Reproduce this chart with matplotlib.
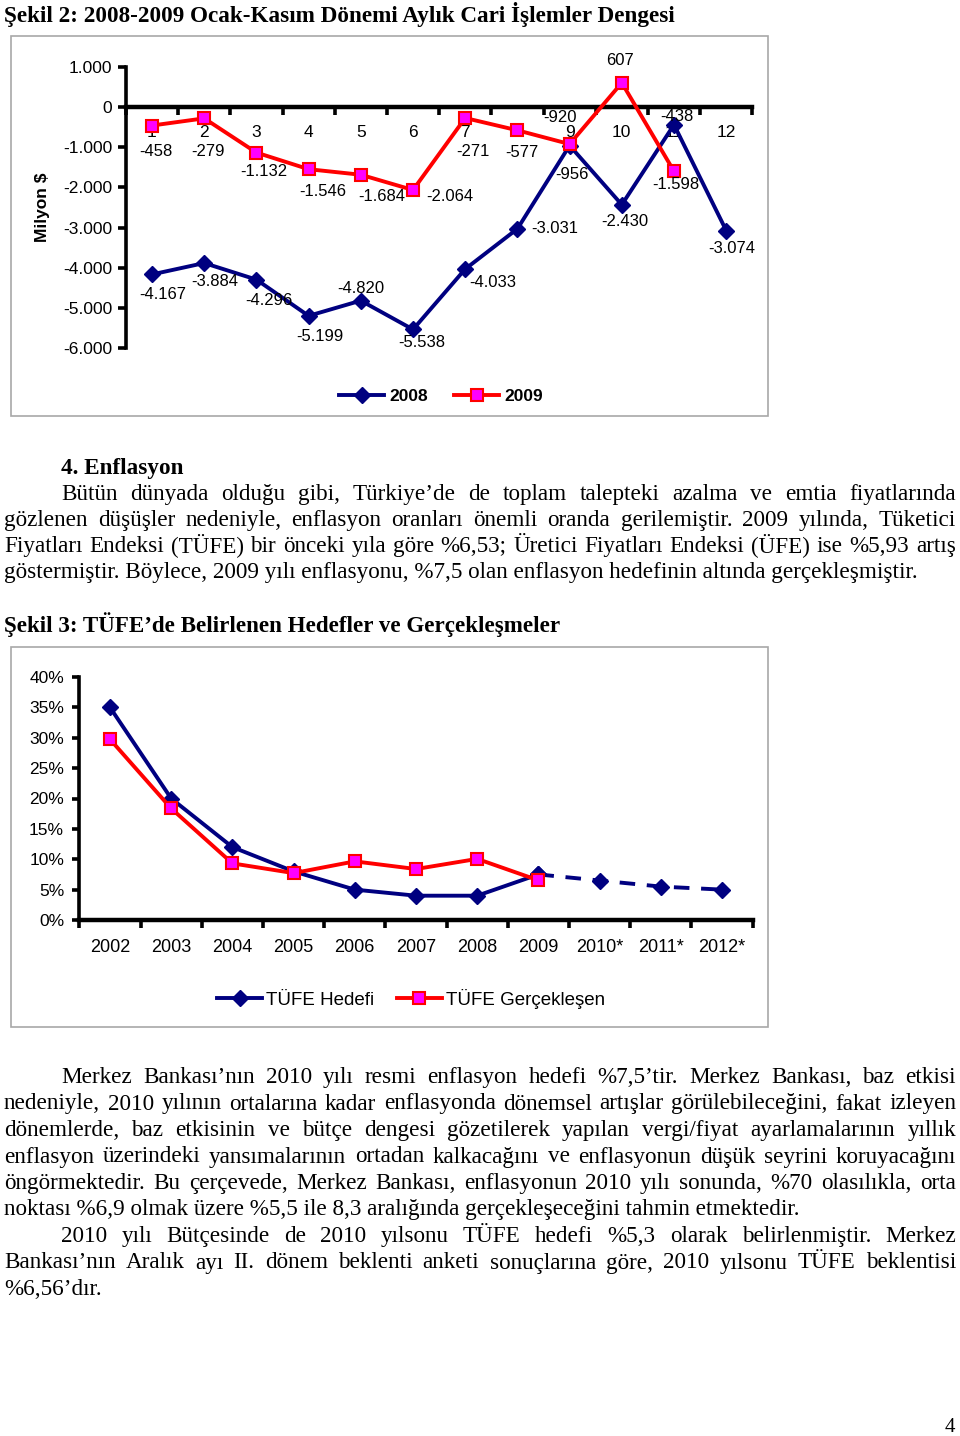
import numpy as np
import matplotlib
matplotlib.use('Agg')
import matplotlib.pyplot as plt
from matplotlib.patches import Rectangle
from matplotlib.ticker import FuncFormatter

# Sekil 2 - aylik cari islemler dengesi (milyon $)
months = list(range(1, 13))
cari_2008 = [-4167, -3884, -4296, -5199, -4820, -5538, -4033, -3031, -956, -2430, -438, -3074]
cari_2009 = [-458, -279, -1132, -1546, -1684, -2064, -271, -577, -920, 607, -1598]

# Sekil 3 - TUFE hedef / gerceklesen (%)
years = ['2002', '2003', '2004', '2005', '2006', '2007', '2008', '2009', '2010*', '2011*', '2012*']
tufe_hedef = [35, 20, 12, 8, 5, 4, 4, 7.5, 6.5, 5.5, 5]
tufe_gercek = [29.75, 18.36, 9.32, 7.72, 9.65, 8.39, 10.06, 6.53]

# where the data labels sit relative to the points (pixels)
off_2008 = [(11, -20), (11, -18), (12, -21), (11, -21), (0, 12), (9, -13),
            (28, -13), (37, 0), (2, -29), (3, -17), (3, 8), (6, -18)]
off_2009 = [(4, -26), (4, -33), (7, -19), (14, -22), (21, -22), (37, -7),
            (8, -33), (4, -22), (-10, 27), (-2, 22), (2, -13)]

title2 = 'Şekil 2: 2008-2009 Ocak-Kasım Dönemi Aylık Cari İşlemler Dengesi'
head4 = '4. Enflasyon'
para1 = ['Bütün dünyada olduğu gibi, Türkiye’de de toplam talepteki azalma ve emtia fiyatlarında',
         'gözlenen düşüşler nedeniyle, enflasyon oranları önemli oranda gerilemiştir. 2009 yılında, Tüketici',
         'Fiyatları Endeksi (TÜFE) bir önceki yıla göre %6,53; Üretici Fiyatları Endeksi (ÜFE) ise %5,93 artış',
         'göstermiştir. Böylece, 2009 yılı enflasyonu, %7,5 olan enflasyon hedefinin altında gerçekleşmiştir.']
title3 = 'Şekil 3: TÜFE’de Belirlenen Hedefler ve Gerçekleşmeler'
para2 = ['Merkez Bankası’nın 2010 yılı resmi enflasyon hedefi %7,5’tir. Merkez Bankası, baz etkisi',
         'nedeniyle, 2010 yılının ortalarına kadar enflasyonda dönemsel artışlar görülebileceğini, fakat izleyen',
         'dönemlerde, baz etkisinin ve bütçe dengesi gözetilerek yapılan vergi/fiyat ayarlamalarının yıllık',
         'enflasyon üzerindeki yansımalarının ortadan kalkacağını ve enflasyonun düşük seyrini koruyacağını',
         'öngörmektedir. Bu çerçevede, Merkez Bankası, enflasyonun 2010 yılı sonunda, %70 olasılıkla, orta',
         'noktası %6,9 olmak üzere %5,5 ile 8,3 aralığında gerçekleşeceğini tahmin etmektedir.',
         '2010 yılı Bütçesinde de 2010 yılsonu TÜFE hedefi %5,3 olarak belirlenmiştir. Merkez',
         'Bankası’nın Aralık ayı II. dönem beklenti anketi sonuçlarına göre, 2010 yılsonu TÜFE beklentisi',
         '%6,56’dır.']

W, H = 960, 1436
SERIF = 'Liberation Serif'
SANS = 'Liberation Sans'
NAVY = '#000080'
RED = '#ff0000'
MAG = '#ff00ff'

plt.rcParams['font.family'] = SANS

fig = plt.figure(figsize=(W / 100, H / 100), dpi=100)
renderer = fig.canvas.get_renderer()


def fx(px):
    return px / W


def fy(py):
    return 1 - py / H


def text_width(s, size, **kw):
    t = fig.text(0, 0, s, fontsize=size, **kw)
    w = t.get_window_extent(renderer).width
    t.remove()
    return w


def fit_size(s, target, **kw):
    return 10 * target / text_width(s, 10, **kw)


def put_line(s, y, x0, x1, size, justify=True, **kw):
    # justified line: spread the words between x0 and x1
    if not justify:
        fig.text(fx(x0), fy(y), s, fontsize=size, va='baseline', **kw)
        return
    words = s.split(' ')
    objs = [fig.text(0, 0, w, fontsize=size, va='baseline', **kw) for w in words]
    widths = [o.get_window_extent(renderer).width for o in objs]
    gap = (x1 - x0 - sum(widths)) / (len(words) - 1)
    x = x0
    for o, w in zip(objs, widths):
        o.set_position((fx(x), fy(y)))
        x += w + gap


# ---- frames around the two charts
for top, bot in [(36, 416), (647, 1027)]:
    fig.patches.append(Rectangle((fx(11), fy(bot)), (768 - 11) / W, (bot - top) / H,
                                 transform=fig.transFigure, fill=False,
                                 edgecolor='#a8a8a8', lw=1.2))

# ---- chart 1
ax1 = fig.add_axes([fx(125.9), fy(348), (752.3 - 125.9) / W, (348 - 67) / H])
ax1.set_xlim(0.5, 12.5)
ax1.set_ylim(-6000, 1000)
ax1.plot(months, cari_2008, color=NAVY, lw=2.8, marker='D', ms=8.5,
         mfc=NAVY, mec=NAVY, label='2008', clip_on=False, zorder=3)
ax1.plot(months[:len(cari_2009)], cari_2009, color=RED, lw=2.8, marker='s', ms=8.5,
         mfc=MAG, mec=RED, mew=1.5, label='2009', clip_on=False, zorder=4)


def tr_fmt(v):
    return f'{int(v):,}'.replace(',', '.')


for m, v, o in zip(months, cari_2008, off_2008):
    ax1.annotate(tr_fmt(v), (m, v), xytext=o, textcoords='offset pixels',
                 ha='center', va='center', fontsize=12, zorder=5)
for m, v, o in zip(months, cari_2009, off_2009):
    ax1.annotate(tr_fmt(v), (m, v), xytext=o, textcoords='offset pixels',
                 ha='center', va='center', fontsize=12, zorder=5)

for s in ['top', 'right']:
    ax1.spines[s].set_visible(False)
ax1.spines['bottom'].set_position(('data', 0))
ax1.spines['bottom'].set_linewidth(3.2)
ax1.spines['left'].set_linewidth(2.6)
ax1.set_xticks(months, [str(m) for m in months])
ax1.set_xticks(np.arange(0.5, 13, 1), minor=True)
ax1.tick_params(axis='x', which='major', length=0, pad=13, labelsize=12.5)
ax1.tick_params(axis='x', which='minor', length=6, width=2.6, direction='out')
ax1.set_yticks(range(-6000, 1001, 1000))
ax1.yaxis.set_major_formatter(FuncFormatter(lambda v, p: tr_fmt(v)))
ax1.tick_params(axis='y', length=6, width=2.6, pad=4, labelsize=12.5)
fig.text(fx(43), fy(207), 'Milyon $', rotation=90, ha='center', va='center',
         fontsize=12.5, fontweight='bold')
ax1.legend(loc='center', bbox_to_anchor=(fx(441), fy(396)), bbox_transform=fig.transFigure,
           ncol=2, frameon=False, prop={'family': SANS, 'weight': 'bold', 'size': 12.5},
           handlelength=2.6, handletextpad=0.3, columnspacing=1.5)

# ---- chart 2
ax2 = fig.add_axes([fx(79.4), fy(920), (752.6 - 79.4) / W, (920 - 677) / H])
ax2.set_xlim(-0.5, 10.5)
ax2.set_ylim(0, 40)
xs = np.arange(len(years))
n_real = len(tufe_gercek)
ax2.plot(xs[:n_real], tufe_hedef[:n_real], color=NAVY, lw=2.8, marker='D', ms=8,
         mfc=NAVY, mec=NAVY, label='TÜFE Hedefi', clip_on=False, zorder=3)
ax2.plot(xs[n_real - 1:], tufe_hedef[n_real - 1:], color=NAVY, lw=2.8, ls=(0, (4, 3)),
         marker='D', ms=8, mfc=NAVY, mec=NAVY, clip_on=False, zorder=3)
ax2.plot(xs[:n_real], tufe_gercek, color=RED, lw=2.8, marker='s', ms=8.5,
         mfc=MAG, mec=RED, mew=1.5, label='TÜFE Gerçekleşen', clip_on=False, zorder=4)
for s in ['top', 'right']:
    ax2.spines[s].set_visible(False)
ax2.spines['bottom'].set_linewidth(3.2)
ax2.spines['left'].set_linewidth(2.6)
ax2.set_xticks(xs, years)
ax2.set_xticks(np.arange(-0.5, 11, 1), minor=True)
ax2.tick_params(axis='x', which='major', length=0, pad=14, labelsize=13)
ax2.tick_params(axis='x', which='minor', length=6, width=2.6, direction='out')
ax2.set_yticks(range(0, 41, 5))
ax2.yaxis.set_major_formatter(FuncFormatter(lambda v, p: f'{int(v)}%'))
ax2.tick_params(axis='y', length=5, width=2.6, pad=6, labelsize=12.5)
ax2.legend(loc='center', bbox_to_anchor=(fx(411), fy(999)), bbox_transform=fig.transFigure,
           ncol=2, frameon=False, prop={'family': SANS, 'size': 13.5},
           handlelength=2.4, handletextpad=0.2, columnspacing=1.2)

# ---- page text
body = fit_size(para1[-1], 912, family=SERIF)
put_line(title2, 22, 4, 676, fit_size(title2, 672, family=SERIF, fontweight='bold'),
         justify=False, family=SERIF, fontweight='bold')
put_line(head4, 474, 61, 0, body, justify=False, family=SERIF, fontweight='bold')
for i, line in enumerate(para1):
    x0 = 61 if i == 0 else 4
    put_line(line, 500 + 26 * i, x0, 956, body, justify=(i < len(para1) - 1), family=SERIF)
put_line(title3, 632, 4, 561, fit_size(title3, 557, family=SERIF, fontweight='bold'),
         justify=False, family=SERIF, fontweight='bold')

body2 = fit_size(para2[5], 794, family=SERIF)
for i, line in enumerate(para2):
    x0 = 61 if i in (0, 6) else 4
    put_line(line, 1083 + 26.5 * i, x0, 956, body2, justify=(i not in (5, 8)), family=SERIF)

fig.text(fx(950), fy(1432), '4', ha='center', va='baseline', fontsize=15, family=SERIF)

fig.savefig('out.png', dpi=100)
